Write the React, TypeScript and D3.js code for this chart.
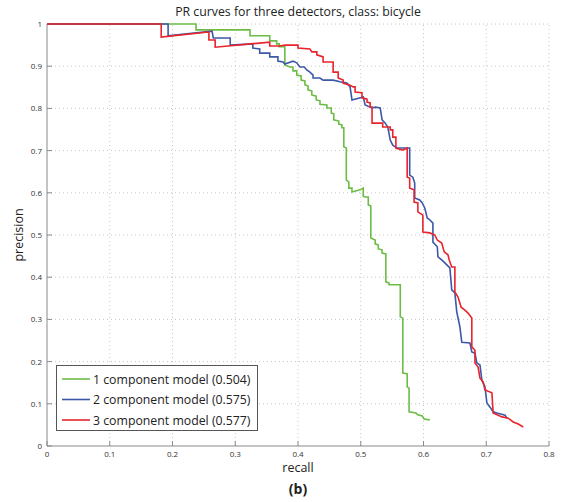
import React from 'react';
import * as d3 from 'd3';

// PR curve vertices: [recall, precision]
const oneComponent: [number, number][] = [
  [0, 1], [0.2375, 1], [0.2375, 0.986], [0.3235, 0.986], [0.3235, 0.972], [0.355, 0.972],
  [0.355, 0.96], [0.366, 0.96], [0.366, 0.953], [0.37, 0.953], [0.37, 0.946], [0.379, 0.946],
  [0.379, 0.903], [0.387, 0.898], [0.392, 0.898], [0.392, 0.889], [0.398, 0.889], [0.398, 0.879],
  [0.405, 0.877], [0.405, 0.867], [0.411, 0.865], [0.411, 0.856], [0.416, 0.853], [0.416, 0.844],
  [0.422, 0.841], [0.422, 0.832], [0.429, 0.829], [0.429, 0.82], [0.435, 0.818], [0.435, 0.81],
  [0.446, 0.808], [0.446, 0.801], [0.453, 0.801], [0.453, 0.789], [0.457, 0.787], [0.457, 0.773],
  [0.465, 0.77], [0.465, 0.763], [0.47, 0.761], [0.47, 0.754], [0.473, 0.754], [0.473, 0.709],
  [0.477, 0.706], [0.477, 0.63], [0.481, 0.626], [0.481, 0.611], [0.486, 0.611], [0.486, 0.602],
  [0.499, 0.607], [0.504, 0.611], [0.504, 0.592], [0.507, 0.59], [0.512, 0.59], [0.512, 0.571],
  [0.516, 0.569], [0.516, 0.493], [0.523, 0.488], [0.523, 0.479], [0.528, 0.476], [0.528, 0.467],
  [0.534, 0.465], [0.534, 0.457], [0.54, 0.455], [0.54, 0.389], [0.545, 0.386], [0.545, 0.382],
  [0.563, 0.382], [0.563, 0.306], [0.567, 0.303], [0.567, 0.173], [0.574, 0.171], [0.574, 0.14],
  [0.577, 0.137], [0.577, 0.081], [0.588, 0.078], [0.591, 0.074], [0.598, 0.071], [0.601, 0.064],
  [0.61, 0.062],
];

const twoComponent: [number, number][] = [
  [0, 1], [0.193, 1], [0.193, 0.972], [0.263, 0.983], [0.265, 0.967], [0.292, 0.967],
  [0.292, 0.95], [0.328, 0.953], [0.328, 0.943], [0.339, 0.941], [0.339, 0.931], [0.355, 0.931],
  [0.355, 0.922], [0.368, 0.922], [0.368, 0.912], [0.376, 0.91], [0.379, 0.905], [0.392, 0.912],
  [0.398, 0.908], [0.403, 0.898], [0.41, 0.898], [0.414, 0.891], [0.419, 0.886], [0.424, 0.879],
  [0.424, 0.872], [0.435, 0.872], [0.44, 0.867], [0.456, 0.867], [0.467, 0.863], [0.478, 0.86],
  [0.483, 0.851], [0.486, 0.82], [0.504, 0.827], [0.507, 0.808], [0.518, 0.801], [0.523, 0.803],
  [0.531, 0.801], [0.534, 0.773], [0.539, 0.765], [0.543, 0.756], [0.547, 0.725], [0.551, 0.713],
  [0.558, 0.706], [0.578, 0.706], [0.578, 0.642], [0.583, 0.637], [0.586, 0.623], [0.586, 0.588],
  [0.594, 0.583], [0.598, 0.576], [0.602, 0.564], [0.606, 0.54], [0.61, 0.536], [0.615, 0.528],
  [0.615, 0.483], [0.622, 0.472], [0.623, 0.448], [0.629, 0.441], [0.634, 0.434], [0.642, 0.422],
  [0.645, 0.37], [0.65, 0.363], [0.653, 0.318], [0.658, 0.282], [0.661, 0.246], [0.674, 0.244],
  [0.677, 0.223], [0.682, 0.22], [0.685, 0.197], [0.69, 0.192], [0.693, 0.156], [0.698, 0.14],
  [0.701, 0.102], [0.706, 0.092], [0.711, 0.081], [0.717, 0.078], [0.73, 0.073], [0.733, 0.066],
];

const threeComponent: [number, number][] = [
  [0, 1], [0.182, 1], [0.182, 0.969], [0.257, 0.981], [0.258, 0.981], [0.258, 0.962],
  [0.268, 0.962], [0.268, 0.945], [0.355, 0.957], [0.355, 0.948], [0.371, 0.948], [0.379, 0.95],
  [0.4, 0.95], [0.4, 0.943], [0.419, 0.941], [0.422, 0.934], [0.43, 0.934], [0.43, 0.927],
  [0.44, 0.922], [0.44, 0.91], [0.456, 0.91], [0.456, 0.886], [0.464, 0.886], [0.464, 0.872],
  [0.472, 0.867], [0.472, 0.86], [0.483, 0.855], [0.488, 0.851], [0.491, 0.851], [0.491, 0.839],
  [0.502, 0.837], [0.502, 0.825], [0.51, 0.822], [0.51, 0.815], [0.515, 0.813], [0.515, 0.803],
  [0.518, 0.803], [0.518, 0.765], [0.531, 0.765], [0.535, 0.765], [0.535, 0.756], [0.547, 0.756],
  [0.547, 0.749], [0.551, 0.749], [0.551, 0.732], [0.556, 0.732], [0.556, 0.706], [0.567, 0.701],
  [0.574, 0.706], [0.574, 0.637], [0.578, 0.635], [0.578, 0.611], [0.585, 0.607], [0.585, 0.578],
  [0.591, 0.576], [0.591, 0.555], [0.599, 0.547], [0.599, 0.507], [0.61, 0.505], [0.618, 0.5],
  [0.622, 0.488], [0.629, 0.481], [0.633, 0.46], [0.639, 0.453], [0.641, 0.441], [0.645, 0.424],
  [0.65, 0.424], [0.65, 0.365], [0.655, 0.353], [0.66, 0.329], [0.666, 0.322], [0.671, 0.315],
  [0.677, 0.303], [0.677, 0.235], [0.682, 0.227], [0.682, 0.197], [0.687, 0.187], [0.69, 0.161],
  [0.695, 0.152], [0.698, 0.133], [0.709, 0.126], [0.711, 0.078], [0.725, 0.069], [0.735, 0.066],
  [0.743, 0.057], [0.751, 0.052], [0.759, 0.045],
];

const seriesNames = ['1 component model (0.504)', '2 component model (0.575)', '3 component model (0.577)'];
const seriesColors = ['#6cbd45', '#3c58a6', '#e8242c'];
const xTicks = [0, 0.1, 0.2, 0.3, 0.4, 0.5, 0.6, 0.7, 0.8];
const yTicks = [0, 0.1, 0.2, 0.3, 0.4, 0.5, 0.6, 0.7, 0.8, 0.9, 1];

const font = '"Open Sans", "DejaVu Sans", sans-serif';

export default function App() {
  const width = 563;
  const height = 502;
  const margin = { top: 24, right: 14, bottom: 56, left: 47 };

  const x = d3.scaleLinear().domain([0, 0.8]).range([margin.left, width - margin.right]);
  const y = d3.scaleLinear().domain([0, 1]).range([height - margin.bottom, margin.top]);

  const line = d3.line<[number, number]>()
    .x(d => x(d[0]))
    .y(d => y(d[1]));

  const curves = [oneComponent, twoComponent, threeComponent];
  const x0 = x(0), x1 = x(0.8), y0 = y(0), y1 = y(1);

  return (
    <svg width={width} height={height} style={{ position: 'absolute', left: 0, top: 0, background: '#fff' }}
         fontFamily={font}>
      {/* grid */}
      {xTicks.filter(t => t > 0).map(t => (
        <line key={'gx' + t} x1={x(t)} x2={x(t)} y1={y0} y2={y1}
              stroke="#c8c8c8" strokeWidth={1} strokeDasharray="1,3" />
      ))}
      {yTicks.filter(t => t > 0).map(t => (
        <line key={'gy' + t} x1={x0} x2={x1} y1={y(t)} y2={y(t)}
              stroke="#c8c8c8" strokeWidth={1} strokeDasharray="1,3" />
      ))}

      {/* axes */}
      <line x1={x0} x2={x0} y1={y0} y2={y1} stroke="#8a8a8a" strokeWidth={1} />
      <line x1={x0} x2={x1} y1={y0} y2={y0} stroke="#8a8a8a" strokeWidth={1} />
      {xTicks.map(t => (
        <g key={'xt' + t}>
          <line x1={x(t)} x2={x(t)} y1={y0} y2={y0 - 5} stroke="#8a8a8a" />
          <text x={x(t)} y={y0 + 11} fontSize={8} fill="#333" textAnchor="middle">{String(t)}</text>
        </g>
      ))}
      {yTicks.map(t => (
        <g key={'yt' + t}>
          <line x1={x0} x2={x0 + 5} y1={y(t)} y2={y(t)} stroke="#8a8a8a" />
          <text x={x0 - 5} y={y(t) + 3} fontSize={8} fill="#333" textAnchor="end">{String(t)}</text>
        </g>
      ))}

      {/* curves */}
      {curves.map((c, i) => (
        <path key={'c' + i} d={line(c) || ''} fill="none" stroke={seriesColors[i]}
              strokeWidth={1.6} strokeLinejoin="miter" />
      ))}

      {/* labels */}
      <text x={(x0 + x1) / 2} y={16} fontSize={12.3} fill="#222" textAnchor="middle">
        PR curves for three detectors, class: bicycle
      </text>
      <text x={(x0 + x1) / 2} y={472} fontSize={12.5} fill="#222" textAnchor="middle">recall</text>
      <text transform={`translate(23,${(y0 + y1) / 2}) rotate(-90)`} fontSize={12.5} fill="#222"
            textAnchor="middle">precision</text>
      <text x={(x0 + x1) / 2} y={494} fontSize={14} fontWeight="bold" fill="#222" textAnchor="middle">(b)</text>

      {/* legend */}
      <g>
        <rect x={56.5} y={365.5} width={201} height={65} fill="#fff" stroke="#555" strokeWidth={1} />
        {seriesNames.map((n, i) => (
          <g key={'lg' + i}>
            <line x1={62} x2={90} y1={379 + i * 20.5} y2={379 + i * 20.5} stroke={seriesColors[i]} strokeWidth={1.6} />
            <text x={93} y={383.5 + i * 20.5} fontSize={12.3} fill="#222">{n}</text>
          </g>
        ))}
      </g>
    </svg>
  );
}
